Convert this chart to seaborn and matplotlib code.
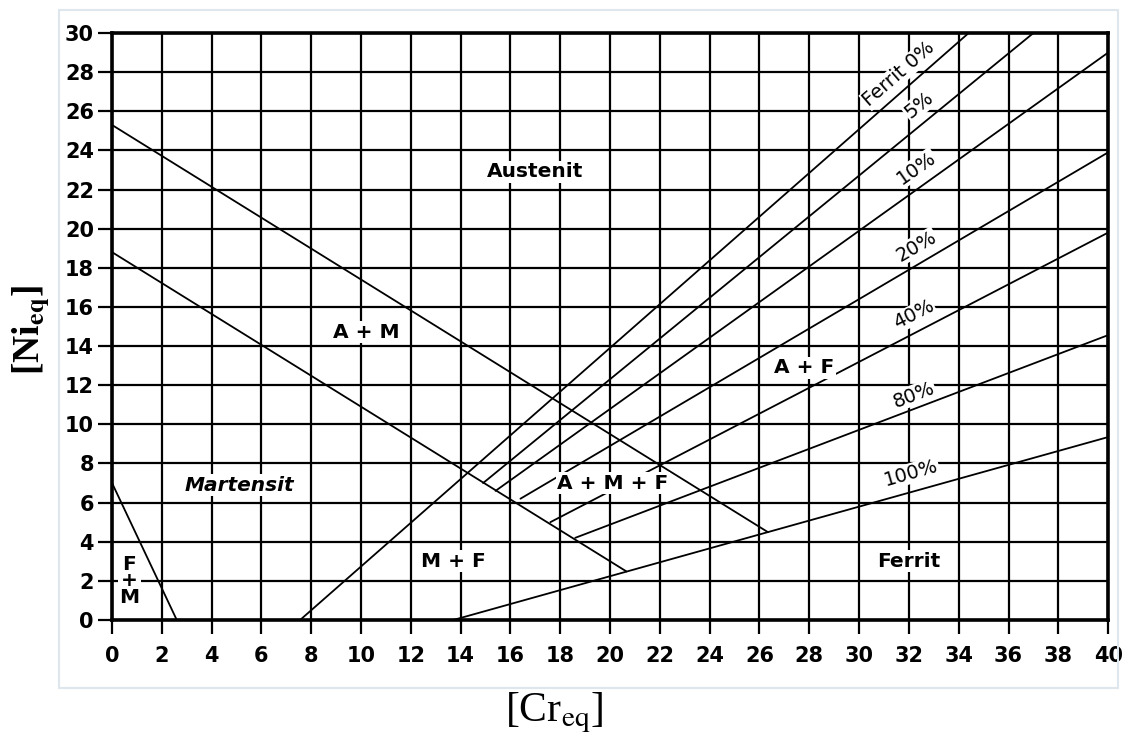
import numpy as np
import pandas as pd
import matplotlib
matplotlib.use("Agg")
import matplotlib.pyplot as plt
import seaborn as sns

# --- DATA ---
# boundary lines given by start / end points in [Cr_eq, Ni_eq]
line_names = ["A/A+M", "A+M/M", "F+M", "Ferrit 0%", "5%", "10%", "20%", "40%", "80%", "100%"]
x_start = [0.0, 0.0, 0.0, 7.55, 14.9, 15.4, 16.4, 17.6, 18.6, 13.7]
y_start = [25.3, 18.8, 7.0, 0.0, 7.0, 6.6, 6.2, 5.0, 4.2, 0.0]
x_end = [26.34, 20.66, 2.6, 34.4, 37.0, 40.0, 40.0, 40.0, 40.0, 40.0]
y_end = [4.49, 2.48, 0.0, 30.0, 30.0, 29.0, 23.9, 19.8, 14.56, 9.35]

# region labels
region_text = ["Austenit", "A + M", "Martensit", "A + M + F", "M + F", "Ferrit", "A + F", "F\n+\nM"]
region_x = [17.0, 10.2, 5.1, 20.1, 13.7, 32.0, 27.8, 0.7]
region_y = [22.9, 14.7, 6.9, 7.0, 3.0, 3.0, 12.9, 2.0]

# ferrite percentage labels
pct_text = ["Ferrit 0%", "5%", "10%", "20%", "40%", "80%", "100%"]
pct_x = [31.6, 32.4, 32.3, 32.3, 32.2, 32.2, 32.1]
pct_y = [27.9, 26.3, 23.1, 19.1, 15.6, 11.5, 7.5]
pct_rot = [41, 39, 35, 30, 27, 21, 16]

# --- BUILD TABLE ---
rows = []
for name, x0, y0, x1, y1 in zip(line_names, x_start, y_start, x_end, y_end):
    rows.append({"line": name, "Cr": x0, "Ni": y0})
    rows.append({"line": name, "Cr": x1, "Ni": y1})
df = pd.DataFrame(rows)

# --- FIGURE ---
sns.set_theme(style="white")
plt.rcParams["font.family"] = ["DejaVu Sans"]
plt.rcParams["mathtext.fontset"] = "stix"
plt.rcParams["text.color"] = "black"
plt.rcParams["xtick.color"] = "black"
plt.rcParams["ytick.color"] = "black"

fig = plt.figure(figsize=(11.25, 7.42), dpi=100)
ax = fig.add_axes([0.0996, 0.1644, 0.8854, 0.7911])

sns.lineplot(data=df, x="Cr", y="Ni", units="line", estimator=None,
             color="black", linewidth=1.3, ax=ax, sort=False, zorder=3)

ax.set_xlim(0, 40)
ax.set_ylim(0, 30)
ax.set_xticks(np.arange(0, 41, 2))
ax.set_yticks(np.arange(0, 31, 2))
ax.grid(True, color="black", linewidth=1.6, zorder=1)
ax.set_axisbelow(True)
# seaborn's white style hides the tick marks, switch them back on
ax.tick_params(bottom=True, left=True, direction="out", length=10, width=1.6,
               color="black", labelcolor="black", labelsize=15)
ax.tick_params(axis="x", pad=9)
ax.tick_params(axis="y", pad=3)
for lab in ax.get_xticklabels() + ax.get_yticklabels():
    lab.set_fontweight("bold")
for sp in ax.spines.values():
    sp.set_linewidth(2.6)
    sp.set_color("black")

ax.set_xlabel("")
ax.set_ylabel("")

for t, x, y in zip(region_text, region_x, region_y):
    style = "italic" if t == "Martensit" else "normal"
    ls = 0.85 if "\n" in t else 1.2
    ax.text(x, y, t, ha="center", va="center", fontsize=14.5, fontweight="heavy",
            fontstyle=style, linespacing=ls, zorder=5, color="black",
            bbox=dict(facecolor="white", edgecolor="none", pad=1.0))

for t, x, y, r in zip(pct_text, pct_x, pct_y, pct_rot):
    ax.text(x, y, t, ha="center", va="center", fontsize=14, rotation=r,
            rotation_mode="anchor", zorder=5, color="black",
            bbox=dict(facecolor="white", edgecolor="none", pad=0.5))

# axis titles
fig.text(0.493, 0.040, r"[Cr$_{\mathrm{eq}}$]", ha="center", va="center",
         fontsize=30, family="Liberation Serif", color="black")
fig.text(0.027, 0.555, r"[Ni$_{\mathbf{eq}}$]", ha="center", va="center",
         fontsize=27, family="Liberation Serif", fontweight="bold", rotation=90,
         color="black")

# faint frame around the original figure
fig.patches.append(plt.Rectangle((0.052, 0.073), 0.942, 0.914, transform=fig.transFigure,
                                 fill=False, edgecolor="#dfe7ee", linewidth=1.5))

fig.savefig("out.png", dpi=100)
